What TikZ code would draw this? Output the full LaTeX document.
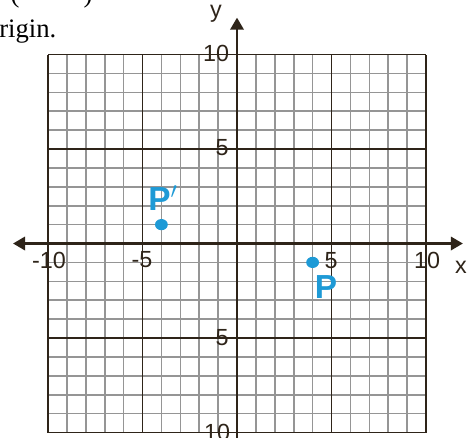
\documentclass[tikz,border=0pt]{standalone}
\usepackage{fontspec}
\setmainfont{Liberation Serif}
\setsansfont{Liberation Sans}
\usetikzlibrary{arrows.meta}
\definecolor{ink}{HTML}{2E2419}
\definecolor{gridgray}{HTML}{959595}
\definecolor{penblue}{HTML}{1E9AD6}
\begin{document}
\begin{tikzpicture}[x=0.75pt,y=-0.75pt,
  lab/.style={font=\sffamily\fontsize{17.5}{17.5}\selectfont, text=ink, inner sep=0pt},
  minorline/.style={draw=gridgray, line width=1.2pt},
  majorline/.style={draw=ink, line width=1.4pt},
  axisline/.style={draw=ink, line width=1.8pt},
  tip/.style={-{Triangle[length=9pt,width=10pt]}},
  pen/.style={font=\sffamily\bfseries\fontsize{25}{25}\selectfont, text=penblue, inner sep=0pt},
  bodytext/.style={font=\rmfamily\fontsize{20}{20}\selectfont, text=black, inner sep=0pt}]
\useasboundingbox (0,0) rectangle (473,437);
\fill[white] (0,0) rectangle (473,437);
\clip (0,0) rectangle (473,437);
% header text
\node[bodytext, anchor=base west] (hdr) at (-1,37) {rigin.};
\node[bodytext, anchor=base] (lp) at (15,2) {(};
\node[bodytext, anchor=base] (rp) at (88,2) {)};
% grid
\begin{scope}[shift={(237,243.5)}, x=14.175pt, y=14.175pt]
  \foreach \i in {-10,...,10} {
    \draw[minorline] (\i,-10) -- (\i,10);
    \draw[minorline] (-10,\i) -- (10,\i);
  }
  \foreach \i in {-10,-5,5,10} {
    \draw[majorline] (\i,-10) -- (\i,10);
    \draw[majorline] (-10,\i) -- (10,\i);
  }
  \coordinate (xl) at (-11.85,0);
  \coordinate (xr) at (11.95,0);
  \coordinate (yb) at (0,-10.5);
  \coordinate (yt) at (0,11.95);
  \draw[axisline, {Triangle[length=9pt,width=10pt]}-{Triangle[length=9pt,width=10pt]}] (xl) -- (xr);
  \draw[axisline, tip] (yb) -- (yt);
  % points
  \fill[penblue] (4,-1) circle[x radius=4.8pt, y radius=4.2pt];
  \fill[penblue] (-4,1) circle[x radius=4.8pt, y radius=4.2pt];
  \coordinate (P) at (4,-1);
  \coordinate (Pp) at (-4,1);
\end{scope}
% tick labels
\node[lab] (xm10) at (49,260) {-10};
\node[lab] (xm5) at (142,260) {-5};
\node[lab] (xp5) at (331,261) {5};
\node[lab] (xp10) at (427,260) {10};
\node[lab] (xlab) at (461,267) {x};
\node[lab] (ylab) at (216,14) {y};
\node[lab] (yp10) at (216,53) {10};
\node[lab] (yp5) at (222,148) {5};
\node[lab] (ym5) at (222,338) {5};
\node[lab] (ym10) at (217,432) {10};
% handwritten labels
\node[pen] (Plab) at (326,287) {P};
\node[pen] (Pplab) at (163,198) {P$'$};
\end{tikzpicture}
\end{document}
